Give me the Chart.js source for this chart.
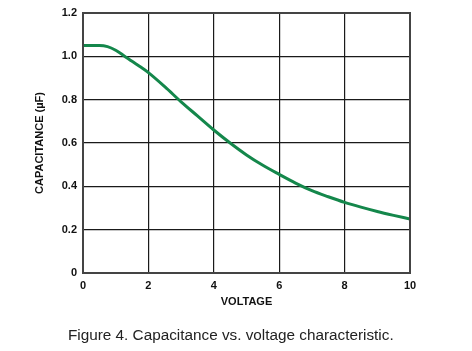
<!DOCTYPE html>
<html>
<head>
<meta charset="utf-8">
<script src="https://cdn.jsdelivr.net/npm/chart.js@4"></script>
<style>
  html, body { margin: 0; padding: 0; background: #fff; }
  #wrap { position: relative; width: 472px; height: 351px; }
  #caption {
    position: absolute; left: 68px; top: 326px;
    font-family: "Liberation Sans", Arial, sans-serif; font-size: 15.3px; color: #222;
    white-space: nowrap;
  }
</style>
</head>
<body>
<div id="wrap">
  <canvas id="capChart" width="472" height="351"></canvas>
  <div id="caption">Figure 4. Capacitance vs. voltage characteristic.</div>
</div>
<script>
// values
const voltage = [0, 0.5, 0.75, 1, 1.25, 1.5, 1.75, 2, 2.5, 3, 3.5, 4, 4.5, 5, 5.5, 6, 6.5, 7, 7.5, 8, 8.5, 9, 9.5, 10];
const capacitance = [1.05, 1.05, 1.045, 1.028, 1.003, 0.977, 0.952, 0.925, 0.86, 0.79, 0.725, 0.66, 0.60, 0.545, 0.497, 0.455, 0.415, 0.38, 0.352, 0.326, 0.304, 0.284, 0.266, 0.249];
const xTicks = [0, 2, 4, 6, 8, 10];
const yTicks = [0, 0.2, 0.4, 0.6, 0.8, 1.0, 1.2];

const tickFont = { family: '"Liberation Sans", Arial, sans-serif', size: 11, weight: 'bold' };

const points = voltage.map((v, i) => ({ x: v, y: capacitance[i] }));

const capChart = new Chart(document.getElementById('capChart'), {
    type: 'line',
    data: {
        datasets: [{
            data: points,
            borderColor: '#14874b',
            borderWidth: 3,
            pointRadius: 0,
            cubicInterpolationMode: 'monotone',
            fill: false
        }]
    },
    options: {
        responsive: false,
        animation: false,
        layout: { padding: { left: 0, right: 62, top: 13, bottom: 42 } },
        plugins: { legend: { display: false }, tooltip: { enabled: false } },
        scales: {
            x: {
                type: 'linear',
                min: 0,
                max: 10,
                afterBuildTicks: (s) => { s.ticks = xTicks.map(v => ({ value: v })); },
                afterFit: (s) => { s.height = 36; },
                ticks: { font: tickFont, color: '#111', padding: 6, maxRotation: 0 },
                grid: { color: '#1a1a1a', lineWidth: 1.2, drawTicks: false },
                border: { color: '#444', width: 2 },
                title: { display: true, text: 'VOLTAGE', font: tickFont, color: '#111', padding: { top: 0, bottom: 0 } }
            },
            y: {
                min: 0,
                max: 1.2,
                afterBuildTicks: (s) => { s.ticks = yTicks.map(v => ({ value: v })); },
                afterFit: (s) => { s.width = 83; },
                ticks: {
                    font: tickFont, color: '#111', padding: 6,
                    callback: (v) => v === 0 ? '0' : v.toFixed(1)
                },
                grid: { color: '#1a1a1a', lineWidth: 1.2, drawTicks: false },
                border: { color: '#444', width: 2 },
                title: { display: true, text: 'CAPACITANCE (µF)', font: tickFont, color: '#111', padding: { top: 33, bottom: 0 } }
            }
        }
    },
    plugins: [{
        // outline the right and top edges of the plot like the original box
        id: 'frame',
        afterDraw(chart) {
            const { ctx, chartArea: a } = chart;
            ctx.save();
            ctx.strokeStyle = '#444';
            ctx.lineWidth = 2;
            ctx.strokeRect(a.left, a.top, a.right - a.left, a.bottom - a.top);
            ctx.restore();
        }
    }]
});
</script>
</body>
</html>
